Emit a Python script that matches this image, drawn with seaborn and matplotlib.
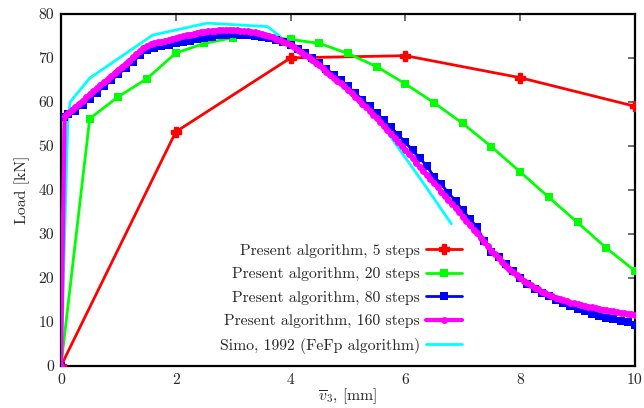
import numpy as np
import pandas as pd
import matplotlib
matplotlib.use("Agg")
import matplotlib.pyplot as plt
import seaborn as sns

# ---------------- data ----------------
red_x = [0, 2, 4, 6, 8, 10]
red_y = [0, 53.2, 70.0, 70.5, 65.5, 59.0]

green_x = [0, 0.5, 1.0, 1.5, 2.0, 2.5, 3.0, 3.5, 4.0, 4.5, 5.0, 5.5, 6.0, 6.5,
           7.0, 7.5, 8.0, 8.5, 9.0, 9.5, 10.0]
green_y = [0, 56.2, 61.2, 65.3, 71.1, 73.3, 74.6, 74.8, 74.2, 73.3, 71.0, 68.0,
           64.1, 59.8, 55.1, 49.8, 44.1, 38.3, 32.6, 26.8, 21.6]

blue_x = [0, 0.06] + [0.125 * k for k in range(1, 81)]
blue_y = [0, 56.6,
          57.3, 57.9, 59.3, 60.7, 62.1, 63.5, 64.9, 66.3, 67.7, 69.1,
          70.6, 71.9, 72.3, 72.7, 73.0, 73.3, 73.6, 73.9, 74.2, 74.5,
          74.8, 75.1, 75.3, 75.4, 75.3, 75.2, 75.0, 74.8, 74.5, 74.1,
          73.6, 73.0, 72.1, 71.1, 70.0, 68.8, 67.5, 66.2, 64.9, 63.5,
          62.0, 60.5, 59.0, 57.4, 55.8, 54.2, 52.5, 50.8, 49.0, 47.2,
          45.4, 43.0, 41.3, 39.3, 37.5, 35.4, 33.4, 31.5, 28.3, 25.8,
          24.7, 23.1, 21.6, 20.0, 18.6, 17.5, 16.6, 15.9, 15.0, 14.3,
          13.6, 12.9, 12.4, 11.9, 11.4, 11.0, 10.6, 10.3, 9.9, 9.3]

pink_x = [0.0625 * k for k in range(161)]
pink_y = [0, 56.9, 57.5, 58.2, 58.9, 59.6, 60.3, 61.0, 61.7, 62.4,
          63.1, 63.8, 64.5, 65.2, 65.9, 66.6, 67.3, 68.0, 68.7, 69.4,
          70.1, 70.8, 71.6, 72.3, 72.8, 73.1, 73.3, 73.5, 73.7, 73.9,
          74.1, 74.3, 74.5, 74.7, 74.9, 75.1, 75.3, 75.5, 75.6, 75.8,
          75.9, 76.0, 76.1, 76.2, 76.3, 76.3, 76.4, 76.4, 76.3, 76.3,
          76.2, 76.1, 76.0, 75.9, 75.8, 75.6, 75.4, 75.2, 75.0, 74.7,
          74.4, 74.1, 73.7, 73.3, 72.9, 72.4, 71.9, 71.3, 70.7, 70.1,
          69.5, 68.9, 68.3, 67.6, 66.9, 66.2, 65.5, 64.8, 64.2, 63.5,
          62.8, 62.0, 61.2, 60.4, 59.6, 58.8, 58.0, 57.1, 56.3, 55.4,
          54.5, 53.6, 52.7, 51.8, 50.9, 49.9, 49.0, 48.1, 47.2, 46.2,
          45.3, 44.3, 43.4, 42.4, 41.5, 40.6, 39.6, 38.7, 37.8, 36.8,
          35.8, 34.9, 33.9, 32.9, 32.0, 31.0, 30.1, 29.1, 28.1, 27.2,
          26.2, 25.4, 24.6, 23.7, 22.8, 22.1, 21.4, 20.7, 20.0, 19.4,
          18.9, 18.3, 17.8, 17.4, 16.9, 16.5, 16.1, 15.8, 15.5, 15.2,
          14.9, 14.7, 14.4, 14.2, 14.0, 13.8, 13.6, 13.5, 13.3, 13.1,
          13.0, 12.8, 12.7, 12.5, 12.4, 12.2, 12.1, 12.0, 11.8, 11.7,
          11.6]

cyan_x = [0, 0.12, 0.16, 0.5, 1.6, 2.55, 3.6, 3.9, 4.5, 5.0, 5.3, 5.8, 6.3, 6.8]
cyan_y = [0, 56.0, 60.0, 65.4, 75.2, 77.9, 77.1, 74.0, 68.6, 63.3, 60.0, 51.0,
          41.8, 32.3]

labels = ["Present algorithm, 5 steps", "Present algorithm, 20 steps",
          "Present algorithm, 80 steps", "Present algorithm, 160 steps",
          "Simo, 1992 (FeFp algorithm)"]
x_ticks = [0, 2, 4, 6, 8, 10]
y_ticks = [0, 10, 20, 30, 40, 50, 60, 70, 80]

# ---------------- style ----------------
sns.set_style("white")
plt.rcParams["font.family"] = ["cmr10", "DejaVu Serif"]
plt.rcParams["mathtext.fontset"] = "cm"
plt.rcParams["axes.formatter.use_mathtext"] = True
FS = 11.3

fig = plt.figure(figsize=(6.44, 4.08), dpi=100)
ax = fig.add_axes([0.0947, 0.103, 0.8913, 0.863])

series = [
    (red_x, red_y, "#ff0000", "P", 6.5, 2.0, 3, 1.0),
    (green_x, green_y, "#00ff00", "s", 5.5, 2.0, 3, 0),
    (blue_x, blue_y, "#0000ff", "s", 5.5, 2.0, 4, 0),
    (pink_x, pink_y, "#ff00ff", "o", 5.0, 3.0, 5, 0),
    (cyan_x, cyan_y, "#00ffff", None, 0, 2.0, 2.5, 0),
]
for (xs, ys, col, mk, ms, lw, z, mew), lab in zip(series, labels):
    df = pd.DataFrame({"x": xs, "y": ys})
    kw = dict(marker=mk, markersize=ms, markeredgewidth=mew,
              markeredgecolor=col) if mk else {}
    sns.lineplot(data=df, x="x", y="y", ax=ax, color=col, linewidth=lw,
                 label=lab, sort=False, estimator=None, zorder=z, **kw)

ax.set_xlim(0, 10)
ax.set_ylim(0, 80)
ax.set_xticks(x_ticks)
ax.set_yticks(y_ticks)
ax.set_xticklabels([str(t) for t in x_ticks], fontsize=FS)
ax.set_yticklabels([str(t) for t in y_ticks], fontsize=FS)
ax.tick_params(direction="in", length=5, width=1.2, color="#555555",
               top=True, right=True, pad=5)
for s in ax.spines.values():
    s.set_linewidth(1.6)
    s.set_color("black")
    s.set_visible(True)
ax.set_xlabel(r"$\overline{v}_3$, [mm]", fontsize=FS, labelpad=0)
ax.set_ylabel("Load [kN]", fontsize=FS, labelpad=6)

leg = ax.legend(loc="lower right", bbox_to_anchor=(0.699, 0.035),
                markerfirst=False, frameon=False, fontsize=FS,
                handlelength=2.3, handletextpad=0.4, labelspacing=0.6,
                borderpad=0, borderaxespad=0, numpoints=1)

fig.savefig("out.png", dpi=100)
